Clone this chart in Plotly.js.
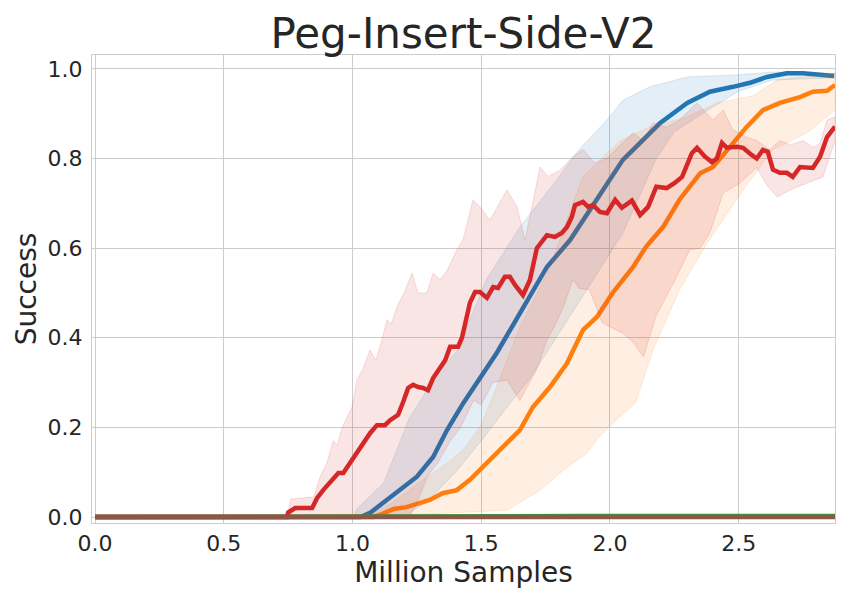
<!DOCTYPE html>
<html>
<head>
<meta charset="utf-8">
<script src="https://cdn.plot.ly/plotly-3.0.1.min.js"></script>
<style>
  body { margin: 0; background: #fff; }
  #chart { width: 850px; height: 600px; }
</style>
</head>
<body>
<div id="chart"></div>
<script>
// mean curves (million samples, success rate)
const blueX = [0, 1.03, 1.07, 1.107, 1.17, 1.25, 1.313, 1.367, 1.43, 1.495, 1.56, 1.625, 1.69, 1.755, 1.845, 1.95, 2.05, 2.117, 2.194, 2.30, 2.388, 2.478, 2.544, 2.61, 2.687, 2.75, 2.87];
const blueY = [0, 0, 0.01, 0.027, 0.053, 0.09, 0.134, 0.194, 0.254, 0.31, 0.366, 0.43, 0.495, 0.558, 0.618, 0.708, 0.797, 0.835, 0.879, 0.924, 0.949, 0.96, 0.969, 0.982, 0.99, 0.99, 0.984];

const orangeX = [0, 1.08, 1.107, 1.16, 1.21, 1.30, 1.35, 1.405, 1.456, 1.52, 1.585, 1.65, 1.70, 1.767, 1.833, 1.895, 1.95, 2.01, 2.09, 2.14, 2.206, 2.27, 2.35, 2.40, 2.466, 2.53, 2.594, 2.66, 2.738, 2.788, 2.843, 2.874];
const orangeY = [0, 0, 0.005, 0.018, 0.022, 0.038, 0.053, 0.06, 0.083, 0.12, 0.157, 0.194, 0.245, 0.29, 0.343, 0.417, 0.447, 0.5, 0.558, 0.603, 0.647, 0.708, 0.767, 0.781, 0.826, 0.87, 0.908, 0.924, 0.937, 0.949, 0.951, 0.964];

const redX = [0, 0.745, 0.75, 0.777, 0.843, 0.862, 0.886, 0.92, 0.945, 0.964, 0.99, 1.017, 1.04, 1.068, 1.095, 1.126, 1.146, 1.177, 1.197, 1.216, 1.235, 1.255, 1.274, 1.293, 1.313, 1.34, 1.36, 1.379, 1.41, 1.425, 1.445, 1.456, 1.476, 1.495, 1.522, 1.546, 1.565, 1.592, 1.611, 1.631, 1.662, 1.689, 1.716, 1.736, 1.755, 1.786, 1.813, 1.833, 1.852, 1.864, 1.895, 1.915, 1.934, 1.961, 1.988, 2.02, 2.046, 2.085, 2.117, 2.148, 2.18, 2.22, 2.25, 2.28, 2.318, 2.338, 2.369, 2.396, 2.415, 2.435, 2.454, 2.493, 2.517, 2.55, 2.57, 2.594, 2.613, 2.633, 2.66, 2.687, 2.71, 2.738, 2.765, 2.788, 2.816, 2.843, 2.874];
const redY = [0, 0, 0.01, 0.02, 0.02, 0.042, 0.06, 0.083, 0.098, 0.098, 0.12, 0.145, 0.165, 0.187, 0.205, 0.205, 0.216, 0.228, 0.257, 0.288, 0.295, 0.29, 0.288, 0.283, 0.31, 0.332, 0.35, 0.38, 0.38, 0.40, 0.447, 0.478, 0.502, 0.502, 0.489, 0.513, 0.511, 0.536, 0.536, 0.518, 0.495, 0.529, 0.60, 0.614, 0.629, 0.625, 0.634, 0.647, 0.67, 0.696, 0.703, 0.692, 0.696, 0.681, 0.678, 0.708, 0.69, 0.706, 0.674, 0.692, 0.737, 0.734, 0.745, 0.759, 0.812, 0.824, 0.804, 0.792, 0.80, 0.835, 0.824, 0.826, 0.824, 0.808, 0.80, 0.819, 0.815, 0.775, 0.768, 0.768, 0.759, 0.781, 0.781, 0.779, 0.804, 0.848, 0.871];

const greenX = [0, 0.9, 1.0, 1.2, 1.5, 1.8, 1.9, 2.5, 2.874];
const greenY = [0, 0.001, 0.002, 0.003, 0.004, 0.004, 0.002, 0.002, 0.002];

const brownX = [0, 2.874];
const brownY = [0, 0];

// shaded bands (upper and lower edges)
const blueUpX = [1.0, 1.02, 1.12, 1.22, 1.33, 1.405, 1.52, 1.65, 1.79, 1.88, 1.988, 2.05, 2.155, 2.30, 2.505, 2.633, 2.874];
const blueUpY = [0, 0.02, 0.075, 0.22, 0.32, 0.37, 0.53, 0.647, 0.75, 0.82, 0.886, 0.93, 0.96, 0.982, 0.987, 0.993, 0.99];
const blueLoX = [1.0, 1.2, 1.3, 1.4, 1.5, 1.6, 1.69, 1.88, 2.05, 2.1, 2.18, 2.25, 2.4, 2.5, 2.63, 2.874];
const blueLoY = [0, 0, 0.04, 0.1, 0.17, 0.245, 0.31, 0.48, 0.634, 0.70, 0.80, 0.86, 0.915, 0.95, 0.975, 0.98];

const orangeUpX = [1.05, 1.15, 1.236, 1.367, 1.43, 1.495, 1.546, 1.64, 1.767, 1.895, 2.04, 2.15, 2.3, 2.415, 2.556, 2.65, 2.874];
const orangeUpY = [0, 0.03, 0.067, 0.12, 0.15, 0.20, 0.27, 0.41, 0.558, 0.76, 0.84, 0.87, 0.893, 0.924, 0.94, 0.975, 0.99];
const orangeLoX = [1.05, 1.6, 1.73, 1.82, 1.91, 1.96, 2.05, 2.1, 2.167, 2.27, 2.376, 2.505, 2.633, 2.765, 2.874];
const orangeLoY = [0, 0.015, 0.06, 0.105, 0.142, 0.18, 0.23, 0.255, 0.373, 0.507, 0.61, 0.72, 0.82, 0.857, 0.908];

const redUpX = [0.745, 0.76, 0.85, 0.874, 0.9, 0.925, 0.94, 0.96, 0.998, 1.017, 1.04, 1.068, 1.09, 1.107, 1.134, 1.15, 1.173, 1.2, 1.231, 1.254, 1.289, 1.313, 1.34, 1.367, 1.405, 1.43, 1.468, 1.495, 1.534, 1.57, 1.6, 1.639, 1.67, 1.7, 1.728, 1.76, 1.806, 1.856, 1.895, 1.94, 1.988, 2.04, 2.09, 2.13, 2.167, 2.22, 2.27, 2.338, 2.40, 2.44, 2.478, 2.53, 2.57, 2.62, 2.66, 2.7, 2.75, 2.79, 2.816, 2.843, 2.874];
const redUpY = [0, 0.04, 0.045, 0.09, 0.12, 0.17, 0.16, 0.2, 0.245, 0.305, 0.33, 0.373, 0.35, 0.38, 0.44, 0.43, 0.47, 0.5, 0.544, 0.50, 0.50, 0.544, 0.53, 0.55, 0.596, 0.62, 0.708, 0.692, 0.663, 0.70, 0.73, 0.692, 0.618, 0.70, 0.781, 0.76, 0.774, 0.804, 0.82, 0.79, 0.80, 0.83, 0.857, 0.84, 0.88, 0.87, 0.886, 0.924, 0.886, 0.908, 0.864, 0.848, 0.84, 0.82, 0.84, 0.83, 0.84, 0.825, 0.834, 0.886, 0.893];
const redLoX = [0.745, 1.22, 1.25, 1.29, 1.33, 1.38, 1.42, 1.47, 1.5, 1.545, 1.6, 1.65, 1.716, 1.755, 1.78, 1.82, 1.856, 1.88, 1.92, 1.97, 2.05, 2.09, 2.13, 2.18, 2.245, 2.31, 2.35, 2.388, 2.44, 2.505, 2.57, 2.61, 2.65, 2.70, 2.765, 2.827, 2.874];
const redLoY = [0, 0, 0.03, 0.09, 0.12, 0.17, 0.2, 0.26, 0.25, 0.30, 0.305, 0.26, 0.33, 0.395, 0.42, 0.47, 0.53, 0.51, 0.507, 0.433, 0.41, 0.39, 0.357, 0.45, 0.52, 0.596, 0.6, 0.634, 0.723, 0.745, 0.78, 0.74, 0.714, 0.73, 0.745, 0.759, 0.84];

function band(upX, upY, loX, loY, rgb) {
    return {
        x: upX.concat(loX.slice().reverse()),
        y: upY.concat(loY.slice().reverse()),
        type: "scatter",
        mode: "lines",
        fill: "toself",
        fillcolor: "rgba(" + rgb + ",0.12)",
        line: {color: "rgba(" + rgb + ",0.15)", width: 1},
        hoverinfo: "skip",
        showlegend: false
    };
}

function curve(x, y, color) {
    return {x: x, y: y, type: "scatter", mode: "lines", line: {color: color, width: 4.5}, showlegend: false};
}

const data = [
    band(blueUpX, blueUpY, blueLoX, blueLoY, "31,119,180"),
    curve(blueX, blueY, "#1f77b4"),
    band(orangeUpX, orangeUpY, orangeLoX, orangeLoY, "255,127,14"),
    curve(orangeX, orangeY, "#ff7f0e"),
    curve(greenX, greenY, "#2ca02c"),
    band(redUpX, redUpY, redLoX, redLoY, "214,39,40"),
    curve(redX, redY, "#d62728"),
    curve(brownX, brownY, "#8c564b")
];

const axisStyle = {
    showgrid: true,
    gridcolor: "#cccccc",
    gridwidth: 1,
    zeroline: false,
    showline: true,
    mirror: true,
    linecolor: "#cccccc",
    linewidth: 1.3,
    ticks: "",
    tickfont: {family: "DejaVu Sans", size: 22, color: "#262626"}
};

const layout = {
    width: 850,
    height: 600,
    paper_bgcolor: "#ffffff",
    plot_bgcolor: "#ffffff",
    margin: {l: 92, r: 15, t: 55, b: 77},
    font: {family: "DejaVu Sans", color: "#262626"},
    title: {
        text: "Peg-Insert-Side-V2",
        font: {family: "DejaVu Sans", size: 42, color: "#262626"},
        x: 0.5, xref: "paper",
        y: 0.945, yref: "container", yanchor: "middle"
    },
    xaxis: Object.assign({}, axisStyle, {
        range: [-0.012, 2.874],
        tickvals: [0, 0.5, 1.0, 1.5, 2.0, 2.5],
        ticktext: ["0.0", "0.5", "1.0", "1.5", "2.0", "2.5"],
        ticklabelstandoff: 0,
        title: {text: "Million Samples", font: {family: "DejaVu Sans", size: 28, color: "#262626"}, standoff: 4}
    }),
    yaxis: Object.assign({}, axisStyle, {
        range: [-0.0134, 1.031],
        tickvals: [0, 0.2, 0.4, 0.6, 0.8, 1.0],
        ticktext: ["0.0", "0.2", "0.4", "0.6", "0.8", "1.0"],
        ticklabelstandoff: 4,
        title: {text: "Success", font: {family: "DejaVu Sans", size: 28, color: "#262626"}, standoff: 2}
    })
};

Plotly.newPlot("chart", data, layout, {displayModeBar: false});
</script>
</body>
</html>
